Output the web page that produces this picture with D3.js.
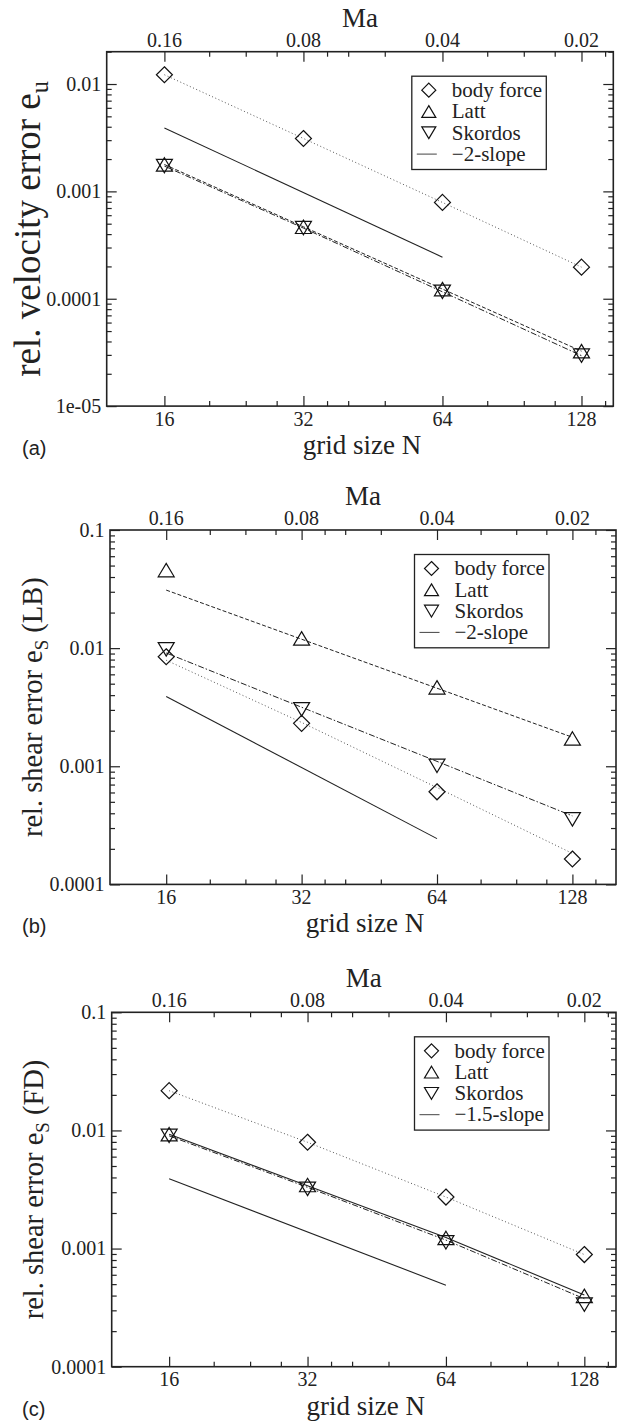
<!DOCTYPE html>
<html>
<head>
<meta charset="utf-8">
<script src="https://cdn.jsdelivr.net/npm/d3@7"></script>
<style>
    body { margin: 0; background: #fff; }
    svg { display: block; }
</style>
</head>
<body>
<script>
// shared axis data
var gridN = [16, 32, 64, 128];
var machLabels = ["0.16", "0.08", "0.04", "0.02"];
var minorN = [20, 24, 28, 36, 40, 48, 80, 96, 112, 144];
var legendNames = ["body force", "Latt", "Skordos"];

// (a) relative velocity error
var bodyA = [0.0122, 0.00311, 0.000789, 0.000197];
var lattA = [0.00178, 0.000468, 0.000123, 3.25e-5];
var skordosA = [0.00172, 0.000455, 0.000116, 2.95e-5];
var slopeA = [0.0039, 0.000244];          // at N = 16 and N = 64

// (b) relative shear error, LB: markers + fitted lines
var bodyB = [0.00845, 0.00231, 0.000608, 0.000164];
var lattB = [0.0458, 0.0121, 0.00466, 0.00172];
var skordosB = [0.00976, 0.00303, 0.00101, 0.000355];
var bodyFitB = [0.0079, 0.00235, 0.00066, 0.000183];
var lattFitB = [0.031, 0.0119, 0.00458, 0.00176];
var skordosFitB = [0.0091, 0.00316, 0.0011, 0.00038];
var slopeB = [0.0039, 0.000244];

// (c) relative shear error, FD
var bodyC = [0.0217, 0.00794, 0.00273, 0.00089];
var lattC = [0.0093, 0.00345, 0.00123, 0.000398];
var skordosC = [0.009, 0.0032, 0.00113, 0.000335];
var lattFitC = [0.0093, 0.0034, 0.00124, 0.000405];
var skordosFitC = [0.009, 0.0033, 0.00118, 0.000376];
var slopeC = [0.0039, 0.00049];

var yTicksA = [0.01, 0.001, 0.0001, 0.00001];
var yLabelsA = ["0.01", "0.001", "0.0001", "1e-05"];
var yTicksBC = [0.1, 0.01, 0.001, 0.0001];
var yLabelsBC = ["0.1", "0.01", "0.001", "0.0001"];

var serif = "'Liberation Serif', 'Times New Roman', serif";
var sans = "'Liberation Sans', Arial, sans-serif";

var styles = {
    body:    { dash: "1,2.5", color: "#555", width: 1 },
    latt:    { dash: "4,2", color: "#222", width: 1 },
    skordos: { dash: "6,2,1.5,2", color: "#222", width: 1 },
    solid:   { dash: null, color: "#222", width: 1.1 }
};

var panels = [
    {
        tag: "(a)", top: 51.7, left: 106.7, right: 613.3, xDomain: [12, 150], yDomain: [1e-5, 0.02],
        yTicks: yTicksA, yLabels: yLabelsA, yTitle: ["rel. velocity error e", "u", ""],
        titleSize: 37, titleX: 40,
        slope: slopeA, slopeEnd: 64, slopeName: "\u22122-slope",
        series: [
            { marks: bodyA, line: bodyA, shape: "diamond", style: styles.body },
            { marks: lattA, line: lattA, shape: "up", style: styles.latt },
            { marks: skordosA, line: skordosA, shape: "down", style: styles.skordos }
        ]
    },
    {
        tag: "(b)", top: 530, left: 110, right: 616, xDomain: [12, 160], yDomain: [1e-4, 0.1],
        yTicks: yTicksBC, yLabels: yLabelsBC, yTitle: ["rel. shear error e", "S", " (LB)"],
        titleSize: 28.5, titleX: 41.5,
        slope: slopeB, slopeEnd: 64, slopeName: "\u22122-slope",
        series: [
            { marks: bodyB, line: bodyFitB, shape: "diamond", style: styles.body },
            { marks: lattB, line: lattFitB, shape: "up", style: styles.latt },
            { marks: skordosB, line: skordosFitB, shape: "down", style: styles.skordos }
        ]
    },
    {
        tag: "(c)", top: 1012.3, left: 111.7, right: 616, xDomain: [12, 150], yDomain: [1e-4, 0.1],
        yTicks: yTicksBC, yLabels: yLabelsBC, yTitle: ["rel. shear error e", "S", " (FD)"],
        titleSize: 28.5, titleX: 42.5,
        slope: slopeC, slopeEnd: 64, slopeName: "\u22121.5-slope",
        series: [
            { marks: bodyC, line: bodyC, shape: "diamond", style: styles.body },
            { marks: lattC, line: lattFitC, shape: "up", style: styles.solid },
            { marks: skordosC, line: skordosFitC, shape: "down", style: styles.skordos }
        ]
    }
];

var plotH = 354.4;

var svg = d3.select("body").append("svg")
    .attr("width", 617)
    .attr("height", 1421)
    .style("background", "white");

function shapePath(shape, s) {
    // s = half width; triangles are centred on their bounding box
    var h = s * 0.84;
    if (shape == "diamond") return "M0," + (-s) + "L" + s + ",0L0," + s + "L" + (-s) + ",0Z";
    if (shape == "up") return "M0," + (-h) + "L" + s + "," + h + "L" + (-s) + "," + h + "Z";
    return "M0," + h + "L" + s + "," + (-h) + "L" + (-s) + "," + (-h) + "Z";
}

function applyStyle(sel, st) {
    sel.attr("fill", "none")
        .attr("stroke", st.color)
        .attr("stroke-width", st.width);
    if (st.dash) sel.attr("stroke-dasharray", st.dash);
    return sel;
}

panels.forEach(function (p) {
    var bottom = p.top + plotH;
    var x = d3.scaleLog().domain(p.xDomain).range([p.left, p.right]);
    var y = d3.scaleLog().domain(p.yDomain).range([bottom, p.top]);
    var g = svg.append("g");

    // y minor / major ticks on both sides
    var yMinor = [];
    var lo = Math.floor(Math.log10(p.yDomain[0])), hi = Math.ceil(Math.log10(p.yDomain[1]));
    for (var e = lo; e < hi; e++) {
        for (var k = 2; k <= 9; k++) {
            var v = k * Math.pow(10, e);
            if (v > p.yDomain[0] && v <= p.yDomain[1] * 1.0001) yMinor.push(v);
        }
    }
    var axisY = [
        d3.axisLeft(y).tickValues(yMinor).tickSize(-5).tickFormat(""),
        d3.axisLeft(y).tickValues(p.yTicks).tickSize(-10).tickFormat(""),
        d3.axisRight(y).tickValues(yMinor).tickSize(-5).tickFormat(""),
        d3.axisRight(y).tickValues(p.yTicks).tickSize(-10).tickFormat("")
    ];
    axisY.forEach(function (ax, i) {
        g.append("g")
            .attr("transform", "translate(" + (i < 2 ? p.left : p.right) + ",0)")
            .call(ax)
            .call(function (s) { s.select(".domain").remove(); })
            .selectAll("line").attr("stroke", "#222").attr("stroke-width", 1.2);
    });

    var axisX = [
        [d3.axisBottom(x).tickValues(minorN).tickSize(-5).tickFormat(""), bottom],
        [d3.axisBottom(x).tickValues(gridN).tickSize(-10).tickFormat(""), bottom],
        [d3.axisTop(x).tickValues(minorN).tickSize(-5).tickFormat(""), p.top],
        [d3.axisTop(x).tickValues(gridN).tickSize(-10).tickFormat(""), p.top]
    ];
    axisX.forEach(function (ax) {
        g.append("g")
            .attr("transform", "translate(0," + ax[1] + ")")
            .call(ax[0])
            .call(function (s) { s.select(".domain").remove(); })
            .selectAll("line").attr("stroke", "#222").attr("stroke-width", 1.2);
    });

    // frame
    g.append("rect")
        .attr("x", p.left).attr("y", p.top)
        .attr("width", p.right - p.left).attr("height", plotH)
        .attr("fill", "none").attr("stroke", "#222").attr("stroke-width", 1.6);

    // tick labels
    g.selectAll(".ylab").data(p.yTicks).enter().append("text")
        .attr("x", p.left - 5.5).attr("y", function (d) { return y(d); })
        .attr("dy", "0.34em").attr("text-anchor", "end")
        .attr("font-family", serif).attr("font-size", 20).attr("fill", "#222")
        .text(function (d, i) { return p.yLabels[i]; });

    g.selectAll(".xlab").data(gridN).enter().append("text")
        .attr("x", function (d) { return x(d); }).attr("y", bottom + 19.5)
        .attr("text-anchor", "middle")
        .attr("font-family", serif).attr("font-size", 20).attr("fill", "#222")
        .text(function (d) { return d; });

    g.selectAll(".malab").data(gridN).enter().append("text")
        .attr("x", function (d) { return x(d); }).attr("y", p.top - 5)
        .attr("text-anchor", "middle")
        .attr("font-family", serif).attr("font-size", 20).attr("fill", "#222")
        .text(function (d, i) { return machLabels[i]; });

    // titles
    var cx = (p.left + p.right) / 2;
    g.append("text").attr("x", cx).attr("y", p.top - 25)
        .attr("text-anchor", "middle").attr("font-family", serif).attr("font-size", 27).attr("fill", "#222")
        .text("Ma");
    g.append("text").attr("x", cx + 2).attr("y", bottom + 48)
        .attr("text-anchor", "middle").attr("font-family", serif).attr("font-size", 27).attr("fill", "#222")
        .text("grid size N");
    g.append("text").attr("x", 22).attr("y", bottom + 49)
        .attr("font-family", sans).attr("font-size", 20).attr("fill", "#222")
        .text(p.tag);

    var sub = p.titleSize * 0.22;
    var yt = g.append("text")
        .attr("transform", "translate(" + p.titleX + "," + ((p.top + bottom) / 2) + ") rotate(-90)")
        .attr("text-anchor", "middle").attr("font-family", serif).attr("font-size", p.titleSize).attr("fill", "#222");
    yt.append("tspan").text(p.yTitle[0]);
    yt.append("tspan").attr("font-size", p.titleSize * 0.66).attr("dy", sub).text(p.yTitle[1]);
    yt.append("tspan").attr("dy", -sub).text(p.yTitle[2]);

    // data
    var line = d3.line().x(function (d) { return x(d[0]); }).y(function (d) { return y(d[1]); });

    applyStyle(g.append("path")
        .attr("d", line([[gridN[0], p.slope[0]], [p.slopeEnd, p.slope[1]]])), styles.solid);

    p.series.forEach(function (s) {
        applyStyle(g.append("path")
            .attr("d", line(gridN.map(function (n, i) { return [n, s.line[i]]; }))), s.style);

        g.selectAll(null).data(s.marks).enter().append("path")
            .attr("transform", function (d, i) { return "translate(" + x(gridN[i]) + "," + y(d) + ")"; })
            .attr("d", shapePath(s.shape, 8))
            .attr("fill", "none").attr("stroke", "#111").attr("stroke-width", 1.2);
    });

    // legend
    var lx = p.right - 67 - 134.5, ly = p.top + 24.5;
    g.append("rect")
        .attr("x", lx).attr("y", ly).attr("width", 134.5).attr("height", 93.3)
        .attr("fill", "white").attr("stroke", "#222").attr("stroke-width", 1.3);
    legendNames.concat([p.slopeName]).forEach(function (name, i) {
        var ry = p.top + 38.5 + i * 21.3;
        if (i < 3) {
            g.append("path")
                .attr("transform", "translate(" + (lx + 17) + "," + ry + ")")
                .attr("d", shapePath(p.series[i].shape, 7))
                .attr("fill", "none").attr("stroke", "#111").attr("stroke-width", 1.2);
        } else {
            g.append("line")
                .attr("x1", lx + 5).attr("x2", lx + 25).attr("y1", ry).attr("y2", ry)
                .attr("stroke", "#444").attr("stroke-width", 1);
        }
        g.append("text")
            .attr("x", lx + 40).attr("y", ry).attr("dy", "0.32em")
            .attr("font-family", serif).attr("font-size", 21).attr("fill", "#222")
            .text(name);
    });
});
</script>
</body>
</html>
